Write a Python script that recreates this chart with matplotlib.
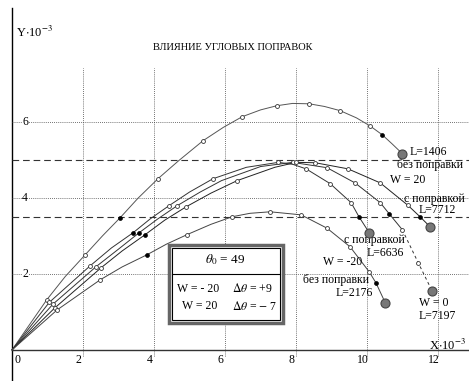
import matplotlib
matplotlib.use("Agg")
import matplotlib.pyplot as plt
from matplotlib.patches import Rectangle

plt.rcParams['font.family'] = ['Liberation Serif', 'DejaVu Serif']
plt.rcParams['mathtext.fontset'] = 'stix'

# trajectories, X and Y in thousands
# top curve: L=1406 без поправки
a_x = [0, 0.98, 1.5, 2.06, 2.55, 3.04, 3.55, 4.11, 4.7, 5.38, 5.95, 6.48, 7.0, 7.46, 7.9, 8.37, 8.8, 9.24, 9.7, 10.08, 10.42, 10.7, 10.99]
a_y = [0, 1.32, 1.93, 2.5, 3.0, 3.47, 3.99, 4.5, 4.98, 5.5, 5.85, 6.13, 6.31, 6.42, 6.48, 6.47, 6.4, 6.29, 6.1, 5.89, 5.66, 5.42, 5.16]
a_open = [1, 3, 7, 9, 11, 13, 15, 17, 19]
a_fill = [5, 20]

# с поправкой, L=6636
c_x = [0, 1.05, 2.2, 2.8, 3.41, 3.9, 4.42, 5.0, 5.66, 6.6, 7.5, 7.9, 8.28, 8.96, 9.55, 9.77, 10.06]
c_y = [0, 1.25, 2.21, 2.68, 3.08, 3.45, 3.79, 4.15, 4.5, 4.8, 4.93, 4.88, 4.76, 4.37, 3.87, 3.5, 3.08]
c_open = [1, 2, 6, 8, 10, 12, 13, 14]
c_fill = [4, 15]

# W = 0, L=7197
w0_x = [0, 1.15, 2.37, 3.0, 3.58, 4.1, 4.65, 5.3, 5.9, 7.0, 7.9, 8.87, 9.66, 10.37, 10.62, 10.99, 11.44, 11.83]
w0_y = [0, 1.2, 2.19, 2.65, 3.08, 3.44, 3.79, 4.15, 4.45, 4.82, 4.93, 4.79, 4.39, 3.87, 3.58, 3.16, 2.29, 1.55]
w0_open = [1, 2, 6, 10, 11, 12, 13, 15, 16]
w0_fill = [4, 14]

# W = 20 с поправкой, L=7712
b_x = [0, 1.2, 2.51, 3.1, 3.75, 4.3, 4.9, 5.6, 6.34, 7.4, 8.0, 8.54, 9.46, 10.37, 11.15, 11.49, 11.77]
b_y = [0, 1.1, 2.16, 2.6, 3.03, 3.41, 3.76, 4.12, 4.45, 4.8, 4.93, 4.92, 4.76, 4.39, 3.8, 3.5, 3.24]
b_open = [1, 2, 6, 8, 10, 11, 12, 13, 14]
b_fill = [4, 15]

# W = -20 без поправки, L=2176
d_x = [0, 1.27, 2.48, 3.1, 3.8, 4.35, 4.93, 5.6, 6.2, 6.7, 7.27, 8.14, 8.87, 9.52, 10.06, 10.25, 10.51]
d_y = [0, 1.05, 1.84, 2.18, 2.5, 2.78, 3.03, 3.3, 3.5, 3.59, 3.63, 3.55, 3.2, 2.71, 2.05, 1.76, 1.24]
d_open = [1, 2, 6, 8, 10, 11, 12, 13, 14]
d_fill = [4, 15]

x_ticks = [0, 2, 4, 6, 8, 10, 12]
y_ticks = [2, 4, 6]
level_lines = [5.0, 3.5]

fig = plt.figure(figsize=(4.69, 3.81), dpi=100)
ax = fig.add_axes([0, 0, 1, 1])
ax.set_xlim(-0.34, 12.87)
ax.set_ylim(-0.82, 9.2)
ax.axis('off')

# axes lines
ax.plot([0, 0], [-0.82, 9.0], color='black', lw=1.0)
ax.plot([0, 12.87], [0, 0], color='#333333', lw=1.0)

# grid
for xv in x_ticks[1:]:
    ax.plot([xv, xv], [-0.15, 7.4], color='#444444', lw=0.6, ls=(0, (1, 1.5)))
for yv in y_ticks:
    ax.plot([0, 12.87], [yv, yv], color='#444444', lw=0.6, ls=(0, (1, 1.5)))
for yv in level_lines:
    ax.plot([0, 12.87], [yv, yv], color='#333333', lw=0.8, ls=(0, (6, 3.5)))

for xv in x_ticks:
    ax.text(xv - 0.12 if xv else 0.15, -0.28, str(xv), fontsize=8.5, ha='center', va='center')
for yv in y_ticks:
    ax.text(0.37, yv, str(yv), fontsize=8.5, ha='center', va='center',
            bbox=dict(facecolor='white', edgecolor='none', pad=0.5))

ax.text(0.1, 8.35, r'Y$\cdot$10$^{-3}$', fontsize=9, ha='left', va='center')
ax.text(11.75, 0.12, r'X$\cdot$10$^{-3}$', fontsize=9, ha='left', va='center')
ax.text(6.2, 7.95, 'ВЛИЯНИЕ УГЛОВЫХ ПОПРАВОК', fontsize=7.5, ha='center', va='center')

curves = [
    (a_x, a_y, a_open, a_fill, '#555555'),
    (c_x, c_y, c_open, c_fill, '#333333'),
    (w0_x, w0_y, w0_open, w0_fill, '#333333'),
    (b_x, b_y, b_open, b_fill, '#222222'),
    (d_x, d_y, d_open, d_fill, '#444444'),
]
for xs, ys, opn, fil, col in curves:
    if xs is w0_x:
        # the tail of the W = 0 curve is drawn broken
        ax.plot(xs[:-2], ys[:-2], color=col, lw=0.7, zorder=3)
        ax.plot(xs[-3:], ys[-3:], color=col, lw=0.7, ls=(0, (3, 3)), zorder=3)
    else:
        ax.plot(xs, ys, color=col, lw=0.7, zorder=3)
    ax.plot([xs[i] for i in opn], [ys[i] for i in opn], 'o', ms=2.8, mfc='white',
            mec='#333333', mew=0.6, zorder=4)
    ax.plot([xs[i] for i in fil], [ys[i] for i in fil], 'o', ms=2.8, mfc='black',
            mec='black', mew=0.5, zorder=4)
    ax.plot(xs[-1], ys[-1], 'o', ms=6.5, mfc='#777777', mec='#444444', mew=0.8, zorder=5)

# labels of the trajectories
fs = 8.5
ax.text(11.2, 5.2, 'L=1406', fontsize=fs, ha='left', va='center')
ax.text(10.85, 4.87, 'без поправки', fontsize=fs, ha='left', va='center')
ax.text(10.65, 4.47, 'W = 20', fontsize=fs, ha='left', va='center')
ax.text(11.05, 3.97, 'с поправкой', fontsize=fs, ha='left', va='center')
ax.text(11.45, 3.68, 'L=7712', fontsize=fs, ha='left', va='center')
ax.text(9.35, 2.88, 'с поправкой', fontsize=fs, ha='left', va='center')
ax.text(10.0, 2.54, 'L=6636', fontsize=fs, ha='left', va='center')
ax.text(8.75, 2.3, 'W = -20', fontsize=fs, ha='left', va='center')
ax.text(8.2, 1.83, 'без поправки', fontsize=fs, ha='left', va='center')
ax.text(9.12, 1.5, 'L=2176', fontsize=fs, ha='left', va='center')
ax.text(11.45, 1.22, 'W = 0', fontsize=fs, ha='left', va='center')
ax.text(11.45, 0.9, 'L=7197', fontsize=fs, ha='left', va='center')

# legend box with double frame
bx0, by0, bw, bh = 4.42, 0.71, 3.21, 2.05
ax.add_patch(Rectangle((bx0, by0), bw, bh, facecolor='white', edgecolor='#666666', lw=2.5, zorder=6))
ax.add_patch(Rectangle((bx0 + 0.09, by0 + 0.08), bw - 0.18, bh - 0.16, facecolor='white',
                       edgecolor='black', lw=0.8, zorder=7))
ax.plot([bx0 + 0.09, bx0 + bw - 0.09], [2.0, 2.0], color='black', lw=0.8, zorder=8)
ax.text(6.0, 2.38, r'$\theta_{\mathit{0}}$ = 49', fontsize=9.5, ha='center', va='center', zorder=9)
ax.text(4.65, 1.6, 'W = - 20', fontsize=8.5, ha='left', va='center', zorder=9)
ax.text(6.2, 1.6, r'$\Delta\theta$ = +9', fontsize=8.5, ha='left', va='center', zorder=9)
ax.text(4.8, 1.15, 'W = 20', fontsize=8.5, ha='left', va='center', zorder=9)
ax.text(6.2, 1.15, r'$\Delta\theta$ = $-$ 7', fontsize=8.5, ha='left', va='center', zorder=9)

fig.savefig('out.png', dpi=100)
